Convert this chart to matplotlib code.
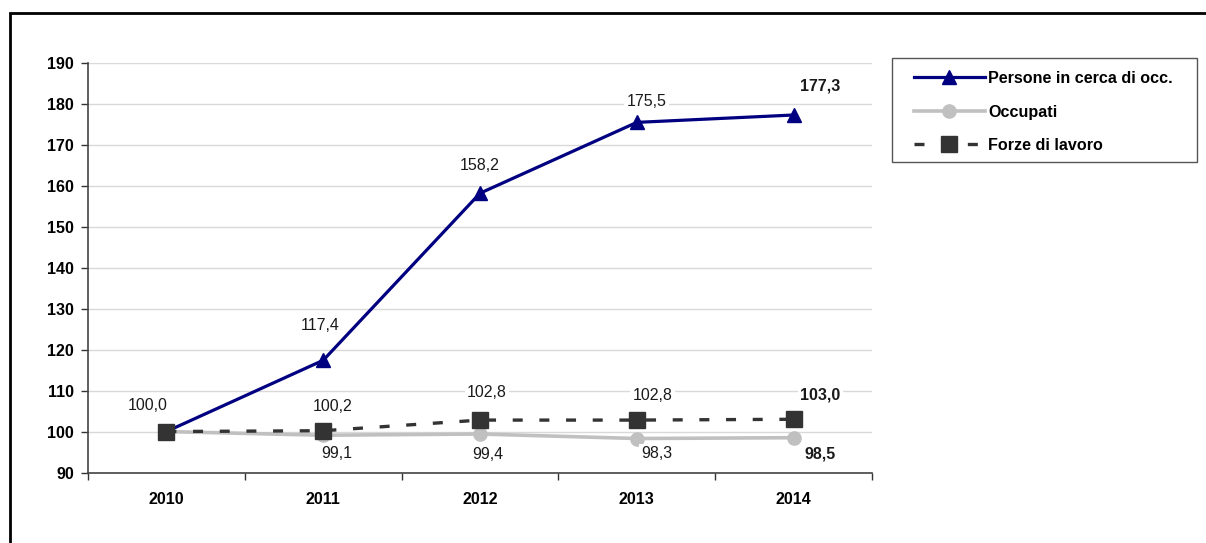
import matplotlib

matplotlib.use("Agg")
import matplotlib.pyplot as plt  # noqa: E402
from matplotlib.patches import Rectangle  # noqa: E402

plt.rcParams["font.family"] = ["Liberation Sans", "DejaVu Sans"]

years = ["2010", "2011", "2012", "2013", "2014"]
persone = [100.0, 117.4, 158.2, 175.5, 177.3]
occupati = [100.0, 99.1, 99.4, 98.3, 98.5]
forze = [100.0, 100.2, 102.8, 102.8, 103.0]

# which points carry a value label (None = no label), and label text
persone_lbl = [None, "117,4", "158,2", "175,5", "177,3"]
occupati_lbl = [None, "99,1", "99,4", "98,3", "98,5"]
forze_lbl = ["100,0", "100,2", "102,8", "102,8", "103,0"]

# label offsets in pixels (dx, dy up) relative to the point
persone_off = [None, (-3, 35), (0, 28), (10, 21), (27, 29)]
occupati_off = [None, (14, -18), (8, -20), (20, -15), (27, -16)]
forze_off = [(-19, 26), (9, 24), (7, 28), (16, 25), (27, 24)]

W, H = 1206, 543
fig = plt.figure(figsize=(W / 100, H / 100), dpi=100)
# outer frame, cut off at right and bottom like the original
fig.patches.append(Rectangle((10 / W, -0.1), 1.2, (H - 13) / H + 0.1,
                             transform=fig.transFigure, fill=False, edgecolor="black",
                             linewidth=2.0))

ax = fig.add_axes([88 / W, (H - 472.5) / H, (872 - 88) / W, (472.5 - 63) / H])
x = list(range(len(years)))

l_occ, = ax.plot(x, occupati, color="#C0C0C0", lw=2.6, marker="o", ms=9.5,
                 zorder=3, label="Occupati")
l_per, = ax.plot(x, persone, color="#000080", lw=2.3, marker="^", ms=10,
                 zorder=4, label="Persone in cerca di occ.")
l_for, = ax.plot(x, forze, color="#333333", lw=2.4, ls=(0, (3.0, 5.0)), marker="s",
                 ms=11.5, zorder=5, label="Forze di lavoro")


def put_labels(vals, lbls, offs):
    for i, (v, t, o) in enumerate(zip(vals, lbls, offs)):
        if t is None:
            continue
        bold = i == len(vals) - 1
        ax.annotate(t, (i, v), xytext=(o[0] * 0.72, o[1] * 0.72), textcoords="offset points",
                    ha="center", va="center", fontsize=11.5,
                    fontweight="bold" if bold else "normal", color="#1a1a1a", zorder=6,
                    bbox=dict(boxstyle="square,pad=0.15", fc="white", ec="none"))


put_labels(persone, persone_lbl, persone_off)
put_labels(occupati, occupati_lbl, occupati_off)
put_labels(forze, forze_lbl, forze_off)

ax.set_xlim(-0.5, len(years) - 0.5)
ax.set_ylim(90, 190)
ax.set_yticks(range(90, 191, 10))
ax.set_xticks(x)
ax.set_xticklabels(years)
ax.set_xticks([i - 0.5 for i in range(len(years) + 1)], minor=True)
ax.tick_params(axis="x", which="major", length=0, pad=14)
ax.tick_params(axis="x", which="minor", length=5, width=1, color="#333333")
ax.tick_params(axis="y", length=5, width=1, color="#333333", pad=5)
for lab in ax.get_xticklabels() + ax.get_yticklabels():
    lab.set_fontweight("bold")
    lab.set_fontsize(11.5)
ax.grid(axis="y", color="#D9D9D9", lw=1)
ax.set_axisbelow(True)
for s in ("top", "right"):
    ax.spines[s].set_visible(False)
for s in ("left", "bottom"):
    ax.spines[s].set_color("#444444")
    ax.spines[s].set_linewidth(1.2)

# legend box drawn separately so the padding matches the original
fig.patches.append(Rectangle((892 / W, (H - 162) / H), (1197 - 892) / W, (162 - 58) / H,
                             transform=fig.transFigure, fill=False, edgecolor="#555555",
                             linewidth=1.0))
fig.legend([l_per, l_occ, l_for], [l.get_label() for l in (l_per, l_occ, l_for)],
           loc="upper left", bbox_to_anchor=(914 / W, (H - 71) / H), borderaxespad=0,
           borderpad=0, frameon=False, handlelength=4.4, handletextpad=0.2,
           labelspacing=1.15, prop=dict(weight="bold", size=11.6))

fig.savefig("out.png", dpi=100)
